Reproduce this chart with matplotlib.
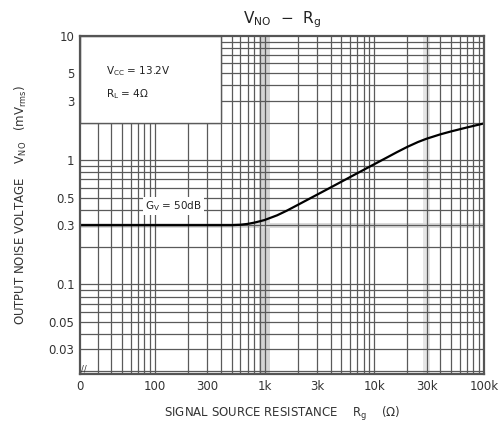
#Output noise voltage versus signal source resistance (datasheet style chart)

#imports
import matplotlib
matplotlib.use('Agg')
import matplotlib.pyplot as plt
from matplotlib.patches import Rectangle

#data
rg = [20.8, 100, 300, 500, 600, 700, 800, 900, 1000, 1300, 1600, 2000,
      2500, 3000, 4000, 5000, 7000, 10000, 13000, 16000, 20000, 25000,
      30000, 40000, 50000, 70000, 100000]
vno = [0.30, 0.30, 0.30, 0.300, 0.302, 0.307, 0.314, 0.322, 0.33, 0.36,
       0.393, 0.436, 0.484, 0.527, 0.603, 0.67, 0.785, 0.928, 1.049, 1.157,
       1.279, 1.399, 1.488, 1.613, 1.702, 1.833, 1.975]

x_ticks = [20.8, 100, 300, 1000, 3000, 10000, 30000, 100000]
x_labels = ['0', '100', '300', '1k', '3k', '10k', '30k', '100k']
y_ticks = [0.03, 0.05, 0.1, 0.3, 0.5, 1, 3, 5, 10]
y_labels = ['0.03', '0.05', '0.1', '0.3', '0.5', '1', '3', '5', '10']

xmin, xmax = 20.8, 100000
ymin, ymax = 0.019, 10

fig = plt.figure(figsize=(5.01, 4.32), dpi=100)
ax = fig.add_axes([0.16, 0.134, 0.806, 0.783])
ax.set_xscale('log')
ax.set_yscale('log')
ax.set_xlim(xmin, xmax)
ax.set_ylim(ymin, ymax)

grid_col = '#5a5a5a'

#light shaded bands seen on the scan
ax.axvspan(890, 1120, color='#d4d4d4', zorder=0, lw=0)
ax.axvspan(28000, 32000, color='#e6e6e6', zorder=0, lw=0)
ax.axhspan(0.285, 0.315, color='#dadada', zorder=0, lw=0)

#grid at every 1..9 step of each decade
for d in [10, 100, 1000, 10000]:
    for m in range(1, 10):
        v = d * m
        if xmin < v < xmax:
            ax.axvline(v, color=grid_col, lw=0.9, zorder=1)
for d in [0.01, 0.1, 1]:
    for m in range(1, 10):
        v = d * m
        if ymin < v < ymax:
            ax.axhline(v, color=grid_col, lw=0.9, zorder=1)

#white box with conditions
ax.add_patch(Rectangle((xmin, 2), 400 - xmin, ymax - 2, facecolor='white',
                       edgecolor=grid_col, lw=1.0, zorder=2))
ax.text(36, 5.2, r'V$_{\mathregular{CC}}$ = 13.2V', fontsize=7.5, zorder=3,
        va='center', color='#222222')
ax.text(36, 3.4, r'R$_{\mathregular{L}}$ = 4$\Omega$', fontsize=7.5, zorder=3,
        va='center', color='#222222')

#curve
ax.plot(rg, vno, color='black', lw=1.6, zorder=4)
ax.text(82, 0.43, r'G$_{\mathregular{V}}$ = 50dB', fontsize=7.5, zorder=3,
        va='center', color='#222222',
        bbox=dict(facecolor='white', edgecolor='none', pad=1.5))

ax.set_xticks(x_ticks)
ax.set_xticklabels(x_labels)
ax.set_yticks(y_ticks)
ax.set_yticklabels(y_labels)
ax.minorticks_off()
ax.tick_params(length=0, labelsize=8.5, colors='#333333', pad=4)

for s in ax.spines.values():
    s.set_color('#555555')
    s.set_linewidth(1.6)
    s.set_zorder(5)

#axis break mark at origin
ax.text(0.003, 0.008, '//', transform=ax.transAxes, fontsize=6,
        color='#333333', zorder=6)

ax.set_title(r'V$_{\mathregular{NO}}$  $-$  R$_{\mathregular{g}}$', fontsize=11,
             color='#222222', pad=9)
ax.set_xlabel(r'SIGNAL SOURCE RESISTANCE    R$_{\mathregular{g}}$    ($\Omega$)',
              fontsize=8.5, color='#333333', labelpad=9)
ax.set_ylabel(r'OUTPUT NOISE VOLTAGE    V$_{\mathregular{NO}}$   (mV$_{\mathregular{rms}}$)',
              fontsize=8.5, color='#333333', labelpad=14)

fig.savefig('out.png', dpi=100)
